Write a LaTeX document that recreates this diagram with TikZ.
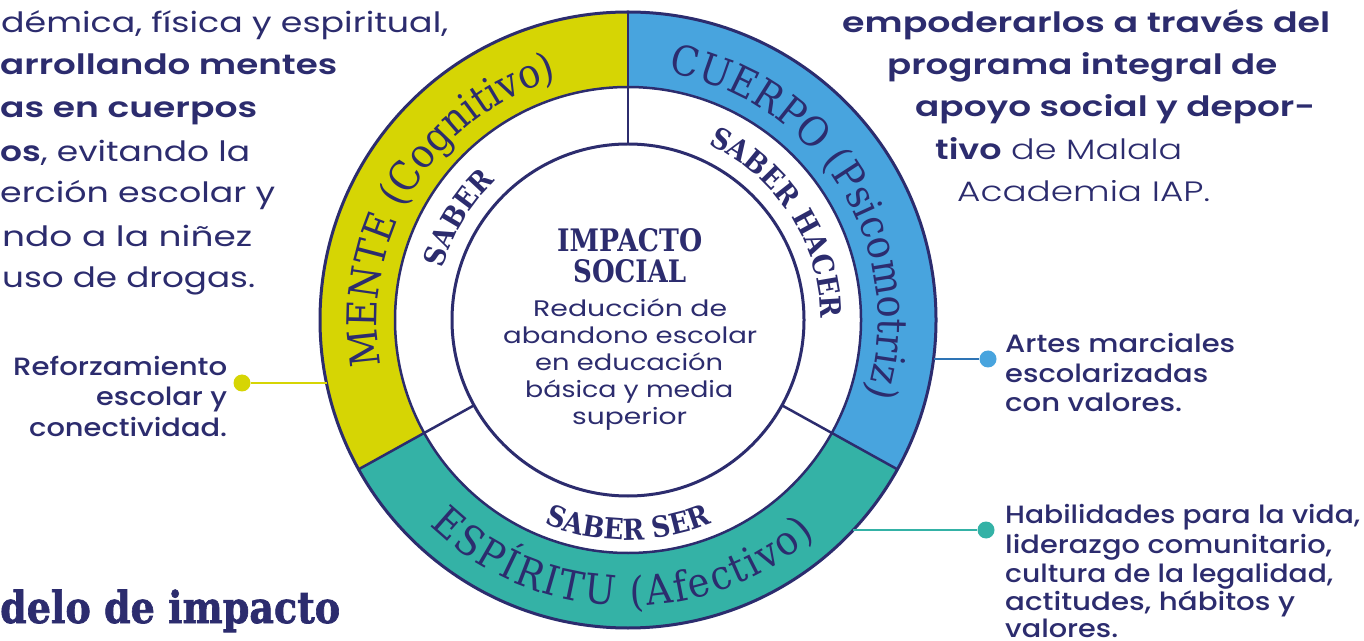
\documentclass[tikz,border=0pt]{standalone}
\usepackage{fontspec}
\usepackage{graphicx}
\usetikzlibrary{decorations.text}
\setmainfont{Poppins}
\IfFontExistsTF{Poppins Light}{\newfontfamily\pLight{Poppins Light}}{\newfontfamily\pLight{Poppins}}
\IfFontExistsTF{Poppins Medium}{\newfontfamily\pMed{Poppins Medium}}{\newfontfamily\pMed{Poppins}}
\IfFontExistsTF{Poppins SemiBold}{\newfontfamily\pSemi{Poppins SemiBold}}{\newcommand\pSemi{\bfseries}}
\newfontfamily\pReg{Poppins}
\newfontfamily\slab{DejaVu Serif}
\newfontfamily\slabHeavy{DejaVu Serif Bold}[FakeBold=1.6]
\IfFontExistsTF{DejaVu Serif Condensed}{\newfontfamily\slabC{DejaVu Serif Condensed}}{\newfontfamily\slabC{DejaVu Serif}}
\definecolor{navy}{RGB}{44,44,110}
\definecolor{yellowc}{RGB}{214,213,4}
\definecolor{bluec}{RGB}{72,164,222}
\definecolor{bluel}{RGB}{46,116,181}
\definecolor{tealc}{RGB}{52,178,166}
\newsavebox\fitbox
\newcommand\fitw[2]{\sbox\fitbox{#2}\pgfmathsetmacro\fitsx{#1/\the\wd\fitbox}\scalebox{\fitsx}[1]{\usebox\fitbox}}
\newcommand\sizeTop{\fontsize{28}{30}\selectfont}
\newcommand\sizeBul{\fontsize{25}{27}\selectfont}
\newcommand\sizeMid{\fontsize{22.5}{24}\selectfont}
\newcommand\ringfont{\slabC\fontsize{41}{41}\selectfont}
\newcommand\saberfont{\slabC\bfseries\fontsize{29}{29}\selectfont}
\tikzset{
  txt/.style={inner sep=0pt, anchor=base west, text=navy},
  dotnode/.style={circle, inner sep=0pt, minimum size=17pt},
  rim/.style={draw=navy, line width=3pt},
  divider/.style={draw=navy, line width=2.5pt},
}
\begin{document}
\begin{tikzpicture}[x=1pt,y=1pt]
\useasboundingbox (0,0) rectangle (1364,640);
\clip (0,0) rectangle (1364,640);
\fill[white] (0,0) rectangle (1364,640);
\coordinate (C) at (628,320);
% ring sectors
\fill[yellowc] ([shift={(90:308pt)}]C) arc[start angle=90,end angle=209,radius=308pt] -- ([shift={(209:233pt)}]C) arc[start angle=209,end angle=90,radius=233pt] -- cycle;
\fill[tealc] ([shift={(209:308pt)}]C) arc[start angle=209,end angle=331,radius=308pt] -- ([shift={(331:233pt)}]C) arc[start angle=331,end angle=209,radius=233pt] -- cycle;
\fill[bluec] ([shift={(331:308pt)}]C) arc[start angle=331,end angle=450,radius=308pt] -- ([shift={(450:233pt)}]C) arc[start angle=450,end angle=331,radius=233pt] -- cycle;
% circles
\draw[rim] (C) circle[radius=308pt];
\draw[divider] (C) circle[radius=233pt];
\draw[rim] (C) circle[radius=176pt];
% dividers
\coordinate (d1a) at ([shift={(90:176pt)}]C);
\coordinate (d1b) at ([shift={(90:308pt)}]C);
\coordinate (d2a) at ([shift={(209:176pt)}]C);
\coordinate (d2b) at ([shift={(209:308pt)}]C);
\coordinate (d3a) at ([shift={(331:176pt)}]C);
\coordinate (d3b) at ([shift={(331:308pt)}]C);
\draw[divider] (d1a) -- (d1b);
\draw[divider] (d2a) -- (d2b);
\draw[divider] (d3a) -- (d3b);
% ring labels
\path[decorate, decoration={text along path, text align=center, text={|\ringfont\color{navy}|MENTE (Cognitivo)}}]
  ([shift={(198.3:251pt)}]C) arc[start angle=198.3,end angle=98.3,radius=251pt];
\path[decorate, decoration={text along path, text align=center, text={|\ringfont\color{navy}|CUERPO (Psicomotriz)}}]
  ([shift={(86.5:250pt)}]C) arc[start angle=86.5,end angle=-23.5,radius=250pt];
\path[decorate, decoration={text along path, text align=fit to path, text={|\ringfont\color{navy}|ESPÍRITU (Afectivo)}}]
  ([shift={(226:286pt)}]C) arc[start angle=226,end angle=311,radius=286pt];
% saber labels
\path[decorate, decoration={text along path, text align=center, text={|\saberfont\color{navy}|SABER}}]
  ([shift={(185:192pt)}]C) arc[start angle=185,end angle=113,radius=192pt];
\path[decorate, decoration={text along path, text align=center, text={|\saberfont\color{navy}|SABER HACER}}]
  ([shift={(73:193pt)}]C) arc[start angle=73,end angle=-7,radius=193pt];
\path[decorate, decoration={text along path, text align=center, text={|\saberfont\color{navy}|SABER SER}}]
  ([shift={(230:220pt)}]C) arc[start angle=230,end angle=310,radius=220pt];
% center text
\node[txt] (imp1) at (557,388) {\fitw{145}{\slab\bfseries\fontsize{31}{31}\selectfont IMPACTO}};
\node[txt] (imp2) at (573,357) {\fitw{113}{\slab\bfseries\fontsize{31}{31}\selectfont SOCIAL}};
\node[txt] (c1) at (533,323) {\fitw{194}{\sizeMid Reducción de}};
\node[txt] (c2) at (503,296) {\fitw{254}{\sizeMid abandono escolar}};
\node[txt] (c3) at (535,269) {\fitw{188}{\sizeMid en educación}};
\node[txt] (c4) at (525,242) {\fitw{208}{\sizeMid básica y media}};
\node[txt] (c5) at (572,215) {\fitw{115}{\sizeMid superior}};
% left top block
\node[txt] (l1) at (1,607) {\fitw{447}{\sizeTop\pReg démica, física y espiritual,}};
\node[txt] (l2) at (0,565) {\fitw{337}{\sizeTop\pSemi arrollando mentes}};
\node[txt] (l3) at (0,522) {\fitw{257}{\sizeTop\pSemi as en cuerpos}};
\node[txt] (l4) at (0,478) {\fitw{250}{\sizeTop{\pSemi os}{\pReg , evitando la}}};
\node[txt] (l5) at (0,437) {\fitw{275}{\sizeTop\pReg erción escolar y}};
\node[txt] (l6) at (2,393) {\fitw{250}{\sizeTop\pReg ndo a la niñez}};
\node[txt] (l7) at (2,352) {\fitw{253}{\sizeTop\pReg uso de drogas.}};
% right top block
\node[txt] (r1) at (842,607) {\fitw{488}{\sizeTop\pSemi empoderarlos a través del}};
\node[txt] (r2) at (887,565) {\fitw{390}{\sizeTop\pSemi programa integral de}};
\node[txt] (r3) at (915,523) {\fitw{400}{\sizeTop\pSemi apoyo social y depor-}};
\node[txt] (r4) at (935,480) {\fitw{247}{\sizeTop{\pSemi tivo}{\pLight{} de Malala}}};
\node[txt] (r5) at (957,438) {\fitw{253}{\sizeTop\pLight Academia IAP.}};
% left bullet
\node[txt] (b1) at (13,264) {\fitw{214}{\sizeBul\pMed Reforzamiento}};
\node[txt] (b2) at (96,234) {\fitw{131}{\sizeBul\pMed escolar y}};
\node[txt] (b3) at (29,204) {\fitw{198}{\sizeBul\pMed conectividad.}};
% right bullets
\node[txt] (a1) at (1005,287) {\fitw{230}{\sizeBul\pMed Artes marciales}};
\node[txt] (a2) at (1005,257) {\fitw{203}{\sizeBul\pMed escolarizadas}};
\node[txt] (a3) at (1005,228) {\fitw{177}{\sizeBul\pMed con valores.}};
\node[txt] (h1) at (1005,117) {\fitw{355}{\sizeBul\pMed Habilidades para la vida,}};
\node[txt] (h2) at (1005,87) {\fitw{327}{\sizeBul\pMed liderazgo comunitario,}};
\node[txt] (h3) at (1005,58) {\fitw{328}{\sizeBul\pMed cultura de la legalidad,}};
\node[txt] (h4) at (1005,30) {\fitw{290}{\sizeBul\pMed actitudes, hábitos y}};
\node[txt] (h5) at (1005,3) {\fitw{113}{\sizeBul\pMed valores.}};
% title fragment
\node[txt] (title) at (0,17) {\fitw{340}{\slabHeavy\fontsize{44}{44}\selectfont delo de impacto}};
% connectors
\node[dotnode, fill=yellowc] (dy) at (242,257) {};
\coordinate (ey) at (326.5,257);
\draw[yellowc, line width=2.5pt] (dy) -- (ey);
\node[dotnode, fill=bluec] (db) at (988,281) {};
\coordinate (eb) at (933.5,281);
\draw[bluel, line width=2.5pt] (eb) -- (db);
\node[dotnode, fill=tealc] (dt) at (986,110) {};
\coordinate (et) at (853.3,110);
\draw[tealc, line width=2.5pt] (et) -- (dt);
\end{tikzpicture}
\end{document}
